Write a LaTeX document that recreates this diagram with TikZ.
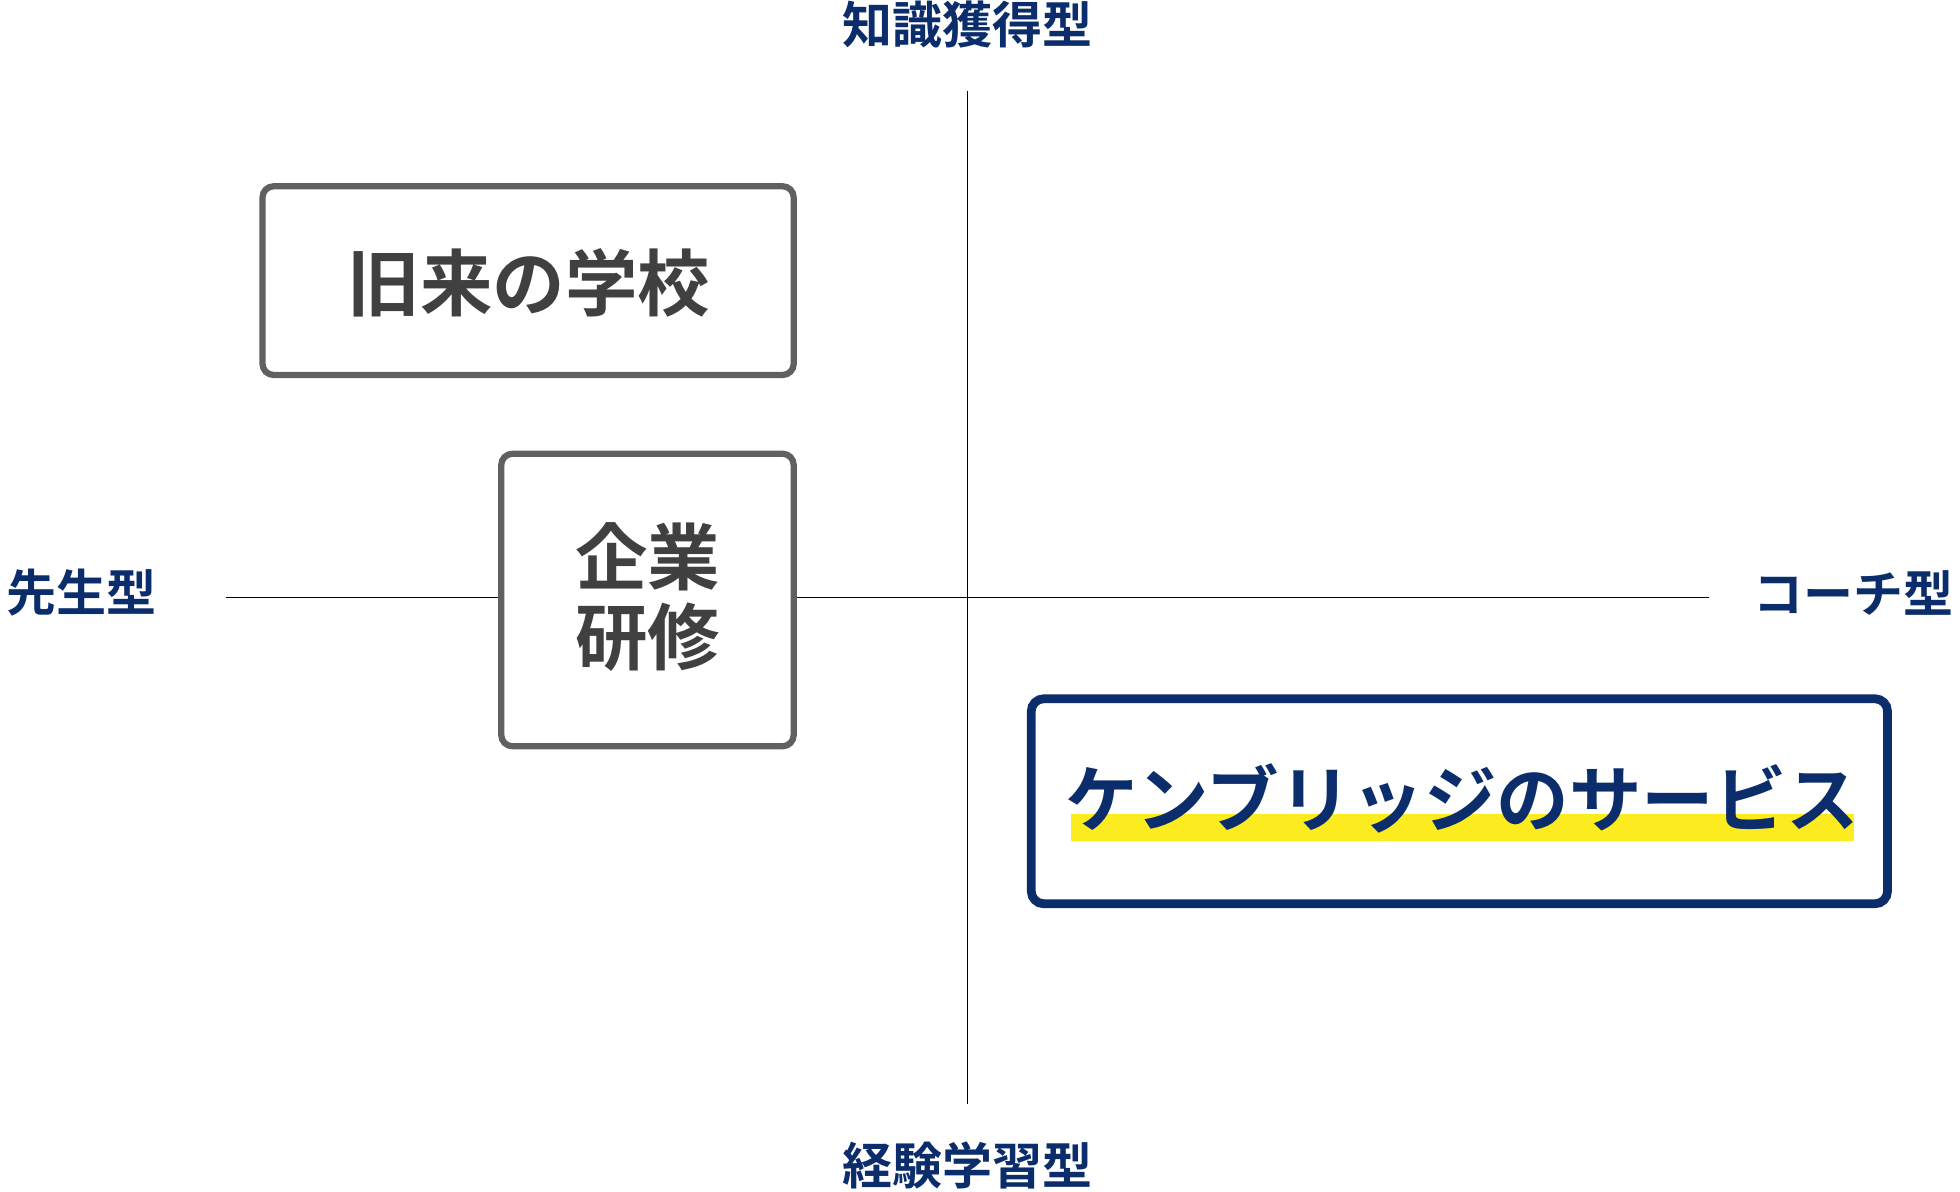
\documentclass[tikz,border=0pt]{standalone}
\usepackage{fontspec}
\newfontfamily\jp{Noto Sans CJK JP Bold}
\definecolor{navy}{HTML}{0B2D6B}
\definecolor{gr}{HTML}{606060}
\definecolor{txtg}{HTML}{404040}
\definecolor{yel}{HTML}{FCEB1F}
\begin{document}
\begin{tikzpicture}[x=1pt,y=-1pt,
  axlab/.style={font=\jp\fontsize{40}{44}\selectfont,text=navy,inner sep=0},
  graybox/.style={draw=gr,line width=5pt,rounded corners=9pt,fill=white},
  bigtxt/.style={font=\jp\fontsize{58}{66}\selectfont,inner sep=0,align=center}]
\useasboundingbox (0,0) rectangle (1568,953);
\coordinate (t) at (774,73); \coordinate (b) at (774,883);
\coordinate (l) at (181,478); \coordinate (r) at (1367,478);
\draw[line width=1.3pt] (t) -- (b);
\draw[line width=1.3pt] (l) -- (r);
\node[axlab] (top) at (774,20) {知識獲得型};
\node[axlab] (bot) at (774,932) {経験学習型};
\node[axlab] (left) at (65,474) {先生型};
\node[axlab] (right) at (1483,474) {コーチ型};
\draw[graybox] (210,149) rectangle (635,300);
\node[bigtxt,text=txtg] (old) at (423,226) {旧来の学校};
\draw[graybox] (401,363) rectangle (635,597);
\node[bigtxt,text=txtg] (corp) at (518,478) {企業\\[-2pt]研修};
\draw[draw=navy,line width=7pt,rounded corners=10pt,fill=white] (825,559) rectangle (1510,723);
\fill[yel] (857,651) rectangle (1483,673);
\node[bigtxt,text=navy] (svc) at (1170,639) {ケンブリッジのサービス};
\end{tikzpicture}
\end{document}
